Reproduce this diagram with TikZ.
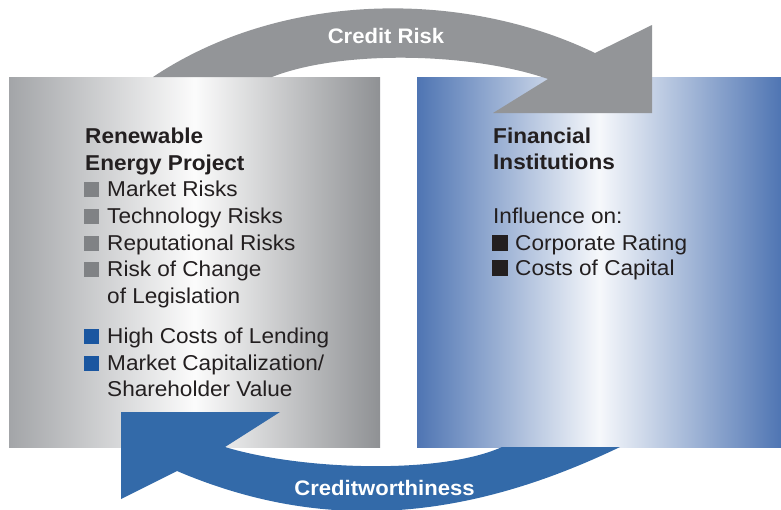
\documentclass[tikz,border=0pt]{standalone}
\usepackage{fontspec}
\setmainfont{Liberation Sans}[FakeStretch=1.05]
\definecolor{ink}{HTML}{231F20}
\definecolor{arrgray}{HTML}{939598}
\definecolor{arrblue}{HTML}{336AA9}
\definecolor{boxgray}{HTML}{A3A5A8}
\definecolor{boxgraydk}{HTML}{8F9194}
\definecolor{boxblue}{HTML}{4F75B3}
\definecolor{bulgray}{HTML}{808285}
\definecolor{bulblue}{HTML}{1A56A0}
\begin{document}
\begin{tikzpicture}[x=1pt, y=-1pt,
  box/.style={anchor=north west, inner sep=0pt, minimum height=370pt},
  txt/.style={anchor=base west, inner sep=0pt, text=ink, font=\fontsize{21.5}{26}\selectfont},
  head/.style={txt, font=\fontsize{21.5}{26}\selectfont\bfseries},
  lab/.style={anchor=base, inner sep=0pt, text=white, font=\fontsize{21}{26}\selectfont\bfseries},
  sq/.style={anchor=south west, inner sep=0pt, minimum size=15pt}]
\useasboundingbox (0,0) rectangle (781,509);
% the two boxes
\node[box, minimum width=371pt, left color=boxgray, right color=boxgraydk, middle color=white!96!boxgray] (projbox) at (9,77) {};
\node[box, minimum width=364pt, left color=boxblue, right color=boxblue, middle color=white!95!boxblue] (finbox) at (417,77) {};
% credit risk arrow
\fill[arrgray] (153,77) .. controls (283,-10) and (465,-10) .. (595,53) -- (652,25) -- (652,113) -- (493,113)
  -- (548,79) .. controls (470,52) and (340,50) .. (272,77) -- cycle;
\node[lab] (risk) at (386,43) {Credit Risk};
% creditworthiness arrow
\fill[arrblue] (121,412) -- (280,412) -- (225,447) .. controls (300,470) and (440,475) .. (502,447)
  -- (620,447) .. controls (470,519) and (327,535) .. (177,471) -- (121,499) -- cycle;
\node[lab] (worth) at (384.5,495) {Creditworthiness};
% left box text
\node[head] (proj1) at (85,143) {Renewable};
\node[head] (proj2) at (85,170) {Energy Project};
\node[sq, fill=bulgray] (sq1) at (84,197) {};
\node[txt] (it1) at (107,196) {Market Risks};
\node[sq, fill=bulgray] (sq2) at (84,224) {};
\node[txt] (it2) at (107,223) {Technology Risks};
\node[sq, fill=bulgray] (sq3) at (84,251) {};
\node[txt] (it3) at (107,250) {Reputational Risks};
\node[sq, fill=bulgray] (sq4) at (84,277) {};
\node[txt] (it4) at (107,276) {Risk of Change};
\node[txt] (it4b) at (107,303) {of Legislation};
\node[sq, fill=bulblue] (sq5) at (84,344) {};
\node[txt] (it5) at (107,343) {High Costs of Lending};
\node[sq, fill=bulblue] (sq6) at (84,371) {};
\node[txt] (it6) at (107,370) {Market Capitalization/};
\node[txt] (it6b) at (107,396) {Shareholder Value};
% right box text
\node[head] (fin1) at (493,143) {Financial};
\node[head] (fin2) at (493,169) {Institutions};
\node[txt] (infl) at (493,223) {Influence on:};
\node[sq, fill=ink, minimum size=16pt] (sq7) at (492,251) {};
\node[txt] (it7) at (515,250) {Corporate Rating};
\node[sq, fill=ink, minimum size=16pt] (sq8) at (492,276) {};
\node[txt] (it8) at (515,275) {Costs of Capital};
\end{tikzpicture}
\end{document}
